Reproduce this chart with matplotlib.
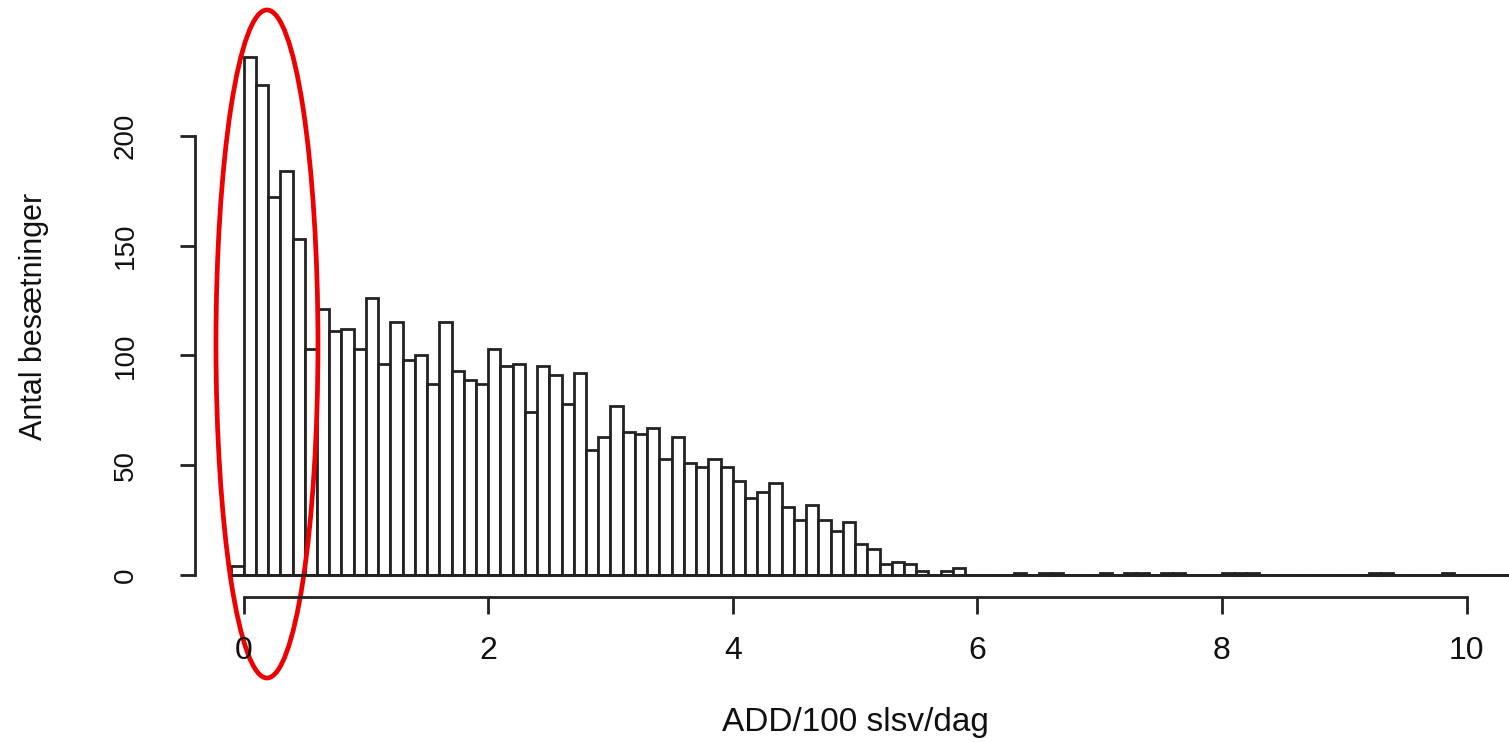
import numpy as np
import matplotlib
matplotlib.use("Agg")
from matplotlib import pyplot as plt
from matplotlib.patches import Ellipse

plt.rcParams['font.family'] = ['Liberation Sans', 'DejaVu Sans']

# histogram: bins of width 0.1 starting at -0.1
bin_start = -0.1
bin_width = 0.1
counts = [4,
          236, 223, 172, 184, 153, 103, 121, 111, 112, 103,
          126, 96, 115, 98, 100, 87, 115, 93, 89, 87,
          103, 95, 96, 74, 95, 91, 78, 92, 57, 63,
          77, 65, 64, 67, 53, 63, 51, 49, 53, 49,
          43, 35, 38, 42, 31, 25, 32, 25, 20, 24,
          14, 12, 5, 6, 5, 2, 0, 2, 3, 0,
          0, 0, 0, 1, 0, 1, 1, 0, 0, 0,
          1, 0, 1, 1, 0, 1, 1, 0, 0, 0,
          1, 1, 1, 0, 0, 0, 0, 0, 0, 0,
          0, 0, 1, 1, 0, 0, 0, 0, 1, 0,
          0, 0, 0, 0, 0]

x_ticks = [0, 2, 4, 6, 8, 10]
y_ticks = [0, 50, 100, 150, 200]
x_title = "ADD/100 slsv/dag"
y_title = "Antal besætninger"

edges = bin_start + bin_width * np.arange(len(counts))

fig = plt.figure(figsize=(15.09, 7.42), dpi=100)
ax = fig.add_axes([0, 0, 1, 1])
ax.set_xlim(-1.992, 10.347)
ax.set_ylim(-76.05, 261.84)

ink = '#222222'
ax.bar(edges, counts, width=bin_width, align='edge', color='white',
       edgecolor=ink, linewidth=2.0)
# bottom edge of the bins as one solid line
ax.hlines(0, edges[0], edges[-1] + bin_width, color=ink, linewidth=2.0)

# R style detached axes
for s in ['top', 'right']:
    ax.spines[s].set_visible(False)
ax.spines['left'].set_position(('data', -0.394))
ax.spines['left'].set_bounds(0, 200)
ax.spines['bottom'].set_position(('data', -10.0))
ax.spines['bottom'].set_bounds(0, 10)
for s in ['left', 'bottom']:
    ax.spines[s].set_color(ink)
    ax.spines[s].set_linewidth(2.0)

ax.set_xticks(x_ticks)
ax.set_yticks(y_ticks)
ax.tick_params(axis='x', length=12, width=2.0, color=ink, pad=16,
               labelsize=23, labelcolor='#111111')
ax.tick_params(axis='y', length=11, width=2.0, color=ink, pad=30,
               labelsize=20, labelcolor='#111111')
for lab in ax.get_yticklabels():
    lab.set_rotation(90)
    lab.set_va('center')

fig.text(855 / 1509, 1 - 722 / 742, x_title, ha='center', va='center',
         fontsize=24, color='#111111')
fig.text(34 / 1509, 1 - 316 / 742, y_title, ha='center', va='center',
         rotation=90, fontsize=22, color='#111111')

# red ring around the first bins
ax.add_patch(Ellipse((0.191, 105.2), 0.834, 304.2, fill=False,
                     edgecolor='#ee0000', linewidth=3.4, clip_on=False))

fig.savefig("out.png", dpi=100)
